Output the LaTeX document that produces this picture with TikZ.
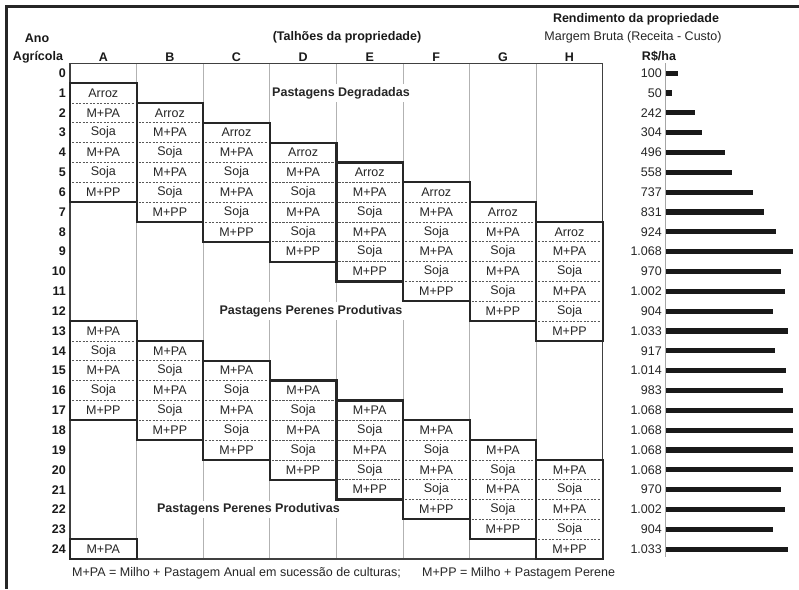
\documentclass[tikz,border=0pt]{standalone}
\usepackage{fontspec}
\setmainfont{Liberation Sans}
\begin{document}
\begin{tikzpicture}[x=1pt,y=-1pt,
  every node/.style={font=\fontsize{12.5}{14}\selectfont, inner sep=0pt, text=black!85},
  bf/.style={font=\fontsize{12.5}{14}\selectfont\bfseries, text=black!90},
  region/.style={font=\fontsize{12.5}{14}\selectfont\bfseries, text=black!85, fill=white, inner xsep=2pt, inner ysep=3pt},
  block/.style={draw=black!85, line width=2.2pt},
  sep/.style={draw=black!65, line width=0.8pt, dash pattern=on 2.2pt off 1.3pt},
  colline/.style={draw=black!30, line width=0.8pt},
  gridframe/.style={draw=black!75, line width=1.3pt},
  frame/.style={draw=black!85, line width=3pt},
  bar/.style={fill=black!90},
  axis/.style={draw=black!35, line width=0.7pt}
]
\useasboundingbox (0,0) rectangle (799,589);
\fill[white] (0,0) rectangle (799,589);
% outer frame (top and left visible)
\draw[frame] (799,6.5) -- (6,6.5) -- (6,589);

% headings
\node[bf] (ano) at (37,38) {Ano};
\node[bf] (agr) at (38,57) {Agrícola};
\node[bf] (talhoes) at (347,37) {(Talhões da propriedade)};
\node[bf] (rend) at (636,19) {Rendimento da propriedade};
\node (margem) at (633,37) {Margem Bruta (Receita - Custo)};
\node[bf] (rsha) at (659,56) {R\$/ha};
\foreach \L [count=\k from 0] in {A,B,C,D,E,F,G,H}{
  \node[bf] (h-\L) at ({103.3+66.6*\k},57) {\L};
}

% row numbers
\foreach \r in {0,...,24}{
  \node[bf, anchor=east] (row-\r) at (66,{73.2+19.83*\r}) {\r};
}

% grid
\foreach \k in {1,...,7}{
  \draw[colline] ({70+66.6*\k},63.3) -- ({70+66.6*\k},559.1);
}
\draw[gridframe] (70,63.3) rectangle (602.8,559.1);

% region labels
\node[region] (pd) at (341,{73.2+19.83*1}) {Pastagens Degradadas};
\node[region] (pp1) at (311,{73.2+19.83*12}) {Pastagens Perenes Produtivas};
\node[region] (pp2) at (248.5,{73.2+19.83*22}) {Pastagens Perenes Produtivas};

% blocks
\foreach \k in {0,...,7}{
  \pgfmathsetmacro{\xl}{70+66.6*\k}
  \pgfmathsetmacro{\xr}{\xl+66.6}
  \pgfmathsetmacro{\xc}{\xl+33.3}
  % first cycle
  \foreach \t [count=\i from 1] in {Arroz,M+PA,Soja,M+PA,Soja,M+PP}{
    \pgfmathsetmacro{\yc}{73.2+19.83*(\k+\i)}
    \node (a-\k-\i) at (\xc,\yc) {\t};
  }
  \foreach \i in {2,...,6}{
    \pgfmathsetmacro{\ys}{63.3+19.83*(\k+\i)}
    \draw[sep] (\xl+2,\ys) -- (\xr-2,\ys);
  }
  \draw[block] (\xl,{63.3+19.83*(\k+1)}) rectangle (\xr,{63.3+19.83*(\k+7)});
  % second cycle
  \foreach \t [count=\i from 13] in {M+PA,Soja,M+PA,Soja,M+PP}{
    \pgfmathsetmacro{\yc}{73.2+19.83*(\k+\i)}
    \node (b-\k-\i) at (\xc,\yc) {\t};
  }
  \foreach \i in {14,...,17}{
    \pgfmathsetmacro{\ys}{63.3+19.83*(\k+\i)}
    \draw[sep] (\xl+2,\ys) -- (\xr-2,\ys);
  }
  \draw[block] (\xl,{63.3+19.83*(\k+13)}) rectangle (\xr,{63.3+19.83*(\k+18)});
}
% third cycle start in A
\node (c-0-24) at (103.3,{73.2+19.83*24}) {M+PA};
\draw[block] (70,{63.3+19.83*24}) rectangle (136.6,559.1);

% bars
\draw[axis] (665,63.3) -- (665,557);
\foreach \v/\l [count=\r from 0] in {100/100,50/50,242/242,304/304,496/496,558/558,737/737,831/831,924/924,1068/1.068,970/970,1002/1.002,904/904,1033/1.033,917/917,1014/1.014,983/983,1068/1.068,1068/1.068,1068/1.068,1068/1.068,970/970,1002/1.002,904/904,1033/1.033}{
  \pgfmathsetmacro{\yc}{73.2+19.83*\r}
  \node[anchor=east] (v-\r) at (662,\yc) {\l};
  \fill[bar] (666,\yc-2.6) rectangle ({666+0.1185*\v},\yc+2.6);
}

% footer
\node[anchor=west] (leg1) at (72,573) {M+PA = Milho + Pastagem Anual em sucessão de culturas;};
\node[anchor=west] (leg2) at (422,573) {M+PP = Milho + Pastagem Perene};
\end{tikzpicture}
\end{document}
